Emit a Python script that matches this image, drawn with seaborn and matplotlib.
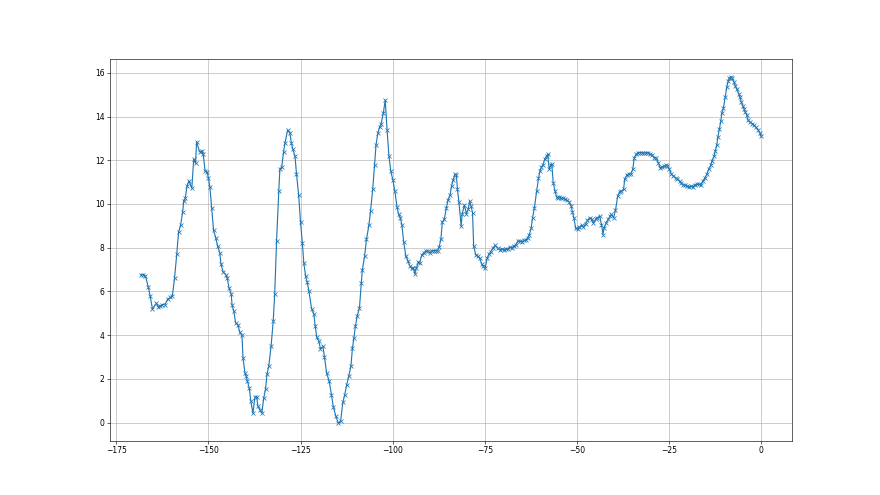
import matplotlib
matplotlib.use("Agg")
import matplotlib.pyplot as plt
import seaborn as sns

# values
x_vals = [
    -168.3, -167.7, -167.1, -166.3, -165.8, -165.2, -164.1, -163.6, -163.2, -162.5,
    -161.8, -161.1, -160.3, -159.8, -159.2, -158.6, -158.1, -157.5, -157.0, -156.7,
    -156.3, -155.8, -155.3, -154.5, -154.0, -153.5, -153.2, -152.4, -151.8, -151.4,
    -150.9, -150.4, -150.0, -149.6, -149.1, -148.6, -148.0, -147.5, -146.9, -146.6,
    -146.0, -145.3, -144.9, -144.4, -143.8, -143.6, -143.1, -142.6, -142.0, -141.5,
    -140.9, -140.6, -140.1, -139.7, -139.4, -138.9, -138.5, -137.9, -137.4, -136.9,
    -136.6, -136.0, -135.5, -135.0, -134.5, -134.1, -133.6, -133.0, -132.4, -132.0,
    -131.5, -130.9, -130.6, -130.1, -129.6, -129.2, -128.5, -127.9, -127.5, -127.1,
    -126.5, -126.1, -125.5, -125.0, -124.5, -124.1, -123.6, -123.2, -122.7, -122.0,
    -121.4, -121.0, -120.6, -120.0, -119.6, -118.9, -118.5, -117.9, -117.2, -116.6,
    -116.1, -115.4, -114.7, -114.1, -113.5, -113.0, -112.5, -111.9, -111.3, -110.9,
    -110.5, -110.1, -109.6, -109.0, -108.5, -108.2, -107.6, -107.1, -106.4, -106.0,
    -105.4, -104.9, -104.5, -104.0, -103.5, -103.1, -102.5, -102.0, -101.5, -101.0,
    -100.5, -99.9, -99.4, -98.8, -98.4, -97.9, -97.5, -97.0, -96.4, -95.8,
    -95.3, -94.8, -94.5, -93.9, -93.6, -93.0, -92.7, -92.1, -91.6, -91.0,
    -90.5, -89.9, -89.4, -88.9, -88.3, -87.8, -87.4, -86.9, -86.5, -86.0,
    -85.4, -85.0, -84.4, -84.0, -83.6, -83.1, -82.7, -82.4, -82.0, -81.4,
    -81.1, -80.5, -80.0, -79.5, -79.1, -78.7, -78.3, -78.0, -77.4, -76.9,
    -76.4, -75.8, -75.4, -74.9, -74.3, -73.8, -73.4, -72.7, -72.2, -71.5,
    -70.9, -70.4, -69.8, -69.3, -68.8, -68.2, -67.7, -67.1, -66.6, -66.0,
    -65.5, -64.9, -64.4, -63.9, -63.3, -62.9, -62.4, -62.0, -61.5, -60.9,
    -60.4, -60.0, -59.6, -59.2, -58.7, -58.2, -57.9, -57.5, -57.1, -56.8,
    -56.4, -55.9, -55.5, -55.2, -54.8, -54.3, -53.7, -53.2, -52.6, -52.1,
    -51.5, -51.2, -50.8, -50.3, -49.8, -49.3, -48.7, -48.2, -47.6, -47.1,
    -46.5, -46.0, -45.5, -44.9, -44.4, -43.8, -43.3, -42.9, -42.6, -42.0,
    -41.5, -40.9, -40.6, -40.0, -39.5, -38.9, -38.4, -37.9, -37.3, -37.0,
    -36.4, -35.9, -35.3, -34.8, -34.4, -33.9, -33.3, -32.8, -32.3, -31.7,
    -31.2, -30.6, -30.1, -29.5, -29.0, -28.4, -27.9, -27.4, -26.8, -26.3,
    -25.7, -25.4, -24.9, -24.3, -23.8, -23.2, -22.7, -22.1, -21.8, -21.2,
    -20.7, -20.1, -19.6, -19.1, -18.5, -18.0, -17.4, -16.9, -16.3, -15.8,
    -15.3, -14.7, -14.2, -13.6, -13.3, -12.7, -12.4, -12.0, -11.7, -11.3,
    -10.9, -10.6, -10.2, -9.7, -9.3, -8.9, -8.6, -8.2, -7.9, -7.3,
    -7.0, -6.6, -6.0, -5.7, -5.3, -5.0, -4.6, -4.3, -3.9, -3.5,
    -3.0, -2.4, -1.9, -1.4, -0.8, -0.3, 0.0,
]
y_vals = [
    6.77, 6.77, 6.70, 6.19, 5.78, 5.20, 5.46, 5.30, 5.32, 5.40,
    5.40, 5.63, 5.73, 5.78, 6.60, 7.69, 8.71, 9.06, 9.64, 10.13,
    10.26, 10.82, 11.05, 10.72, 12.04, 11.86, 12.84, 12.39, 12.43, 12.27,
    11.50, 11.48, 11.20, 10.77, 9.80, 8.79, 8.45, 8.07, 7.76, 7.26,
    6.89, 6.77, 6.62, 6.16, 5.88, 5.40, 5.09, 4.55, 4.48, 4.14,
    3.99, 2.95, 2.29, 2.11, 1.88, 1.57, 0.99, 0.43, 1.15, 1.19,
    0.78, 0.58, 0.43, 1.11, 1.53, 2.21, 2.61, 3.48, 4.66, 5.90,
    8.30, 10.59, 11.59, 11.69, 12.38, 12.81, 13.37, 13.26, 12.81, 12.50,
    12.20, 11.39, 10.41, 9.18, 8.21, 7.29, 6.69, 6.43, 6.00, 5.21,
    4.98, 4.40, 3.91, 3.71, 3.38, 3.48, 2.98, 2.26, 1.88, 1.27,
    0.73, 0.28, -0.03, 0.08, 0.93, 1.27, 1.70, 2.11, 2.61, 3.41,
    3.87, 4.40, 4.89, 5.24, 6.39, 7.00, 7.61, 8.38, 9.06, 9.67,
    10.67, 11.78, 12.70, 13.26, 13.53, 13.68, 14.18, 14.75, 13.37, 12.20,
    11.51, 11.08, 10.59, 9.86, 9.55, 9.37, 9.06, 8.27, 7.61, 7.38,
    7.15, 7.05, 7.08, 6.80, 7.05, 7.34, 7.28, 7.66, 7.76, 7.84,
    7.87, 7.76, 7.87, 7.87, 7.87, 7.87, 8.02, 8.38, 9.18, 9.29,
    9.80, 10.16, 10.41, 10.82, 11.08, 11.36, 11.33, 10.67, 10.10, 8.99,
    9.55, 9.95, 9.55, 9.75, 10.13, 9.90, 9.60, 8.07, 7.66, 7.61,
    7.53, 7.26, 7.15, 7.05, 7.53, 7.72, 7.81, 7.99, 8.10, 7.99,
    7.90, 7.96, 7.90, 7.96, 7.92, 8.02, 7.99, 8.07, 8.12, 8.30,
    8.30, 8.27, 8.33, 8.34, 8.45, 8.60, 8.88, 9.37, 9.83, 10.59,
    11.17, 11.51, 11.69, 11.78, 12.04, 12.20, 12.27, 11.59, 11.78, 11.84,
    10.97, 10.59, 10.32, 10.28, 10.32, 10.26, 10.26, 10.21, 10.16, 10.10,
    9.90, 9.64, 9.37, 8.88, 8.84, 8.94, 9.03, 8.94, 9.09, 9.25,
    9.37, 9.29, 9.14, 9.29, 9.37, 9.45, 9.06, 8.60, 8.91, 9.14,
    9.29, 9.45, 9.52, 9.37, 9.71, 10.36, 10.56, 10.59, 10.67, 11.13,
    11.33, 11.36, 11.39, 11.59, 12.12, 12.27, 12.35, 12.35, 12.35, 12.32,
    12.35, 12.35, 12.27, 12.24, 12.12, 12.09, 11.89, 11.66, 11.69, 11.72,
    11.78, 11.74, 11.59, 11.36, 11.28, 11.20, 11.13, 11.05, 10.97, 10.87,
    10.87, 10.82, 10.77, 10.82, 10.77, 10.87, 10.90, 10.90, 10.87, 11.05,
    11.17, 11.36, 11.59, 11.78, 11.97, 12.20, 12.43, 12.70, 13.07, 13.42,
    13.80, 14.18, 14.38, 14.90, 15.33, 15.61, 15.76, 15.82, 15.76, 15.56,
    15.41, 15.26, 15.03, 14.88, 14.65, 14.50, 14.35, 14.20, 14.09, 13.82,
    13.74, 13.67, 13.59, 13.51, 13.39, 13.24, 13.10,
]

fig = plt.figure(figsize=(16, 9), dpi=55)
ax = fig.gca()
ax = sns.lineplot(x=x_vals, y=y_vals,
                  marker='x',
                  sort=False,
                  estimator=None,
                  color='C0',
                  markeredgecolor='C0',
                  markeredgewidth=1.0,
                  ax=ax)
ax.set_xticks([-175, -150, -125, -100, -75, -50, -25, 0])
ax.set_yticks(range(0, 17, 2))
plt.grid(True)
plt.savefig('out.png', dpi=55)
